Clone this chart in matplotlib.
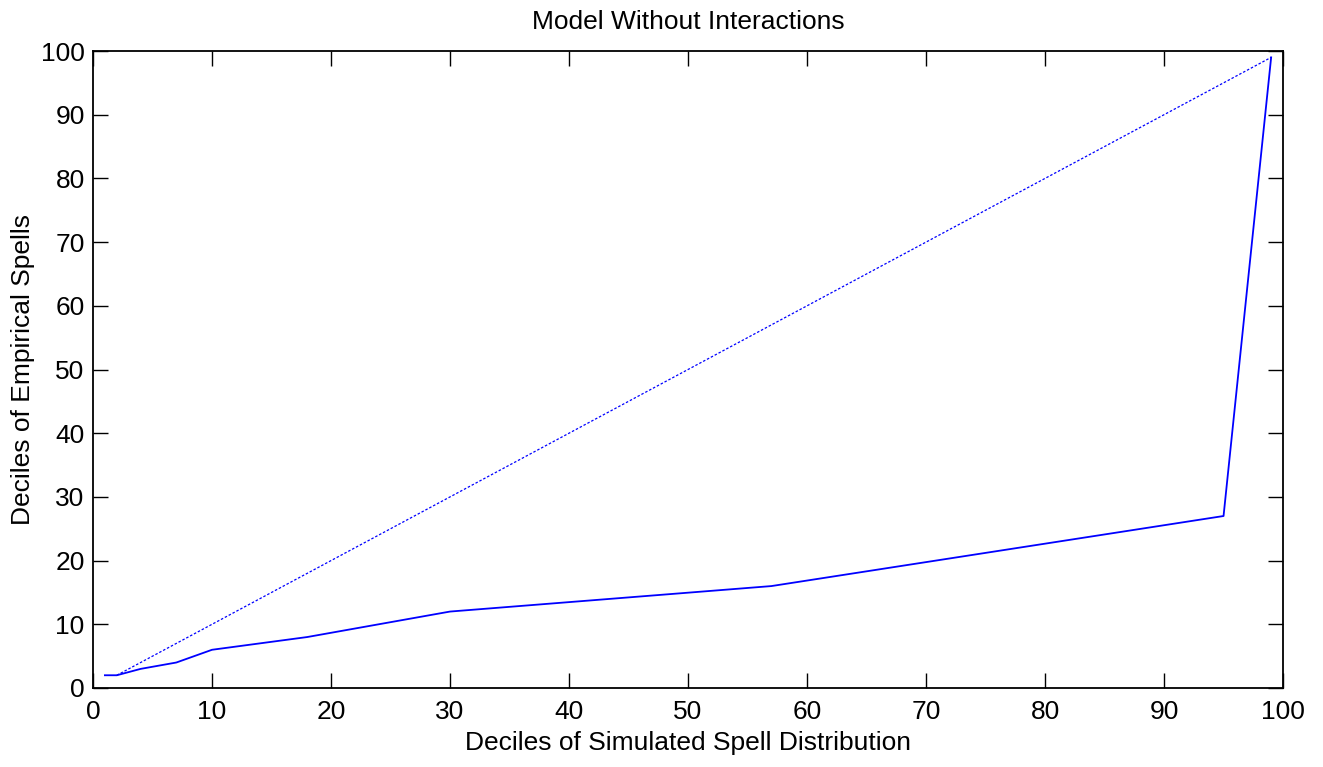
import matplotlib
matplotlib.use('Agg')
import matplotlib.pyplot as plt

plt.rcParams['font.family'] = ['Liberation Sans', 'DejaVu Sans']

# deciles of simulated vs empirical spells
sim_x = [1, 2, 4, 7, 10, 18, 30, 57, 95, 99]
emp_y = [2, 2, 3, 4, 6, 8, 12, 16, 27, 99]
ref_x = [2, 99]
ref_y = [2, 99]

fig = plt.figure(figsize=(13.23, 7.67), dpi=100)
ax = fig.add_axes([0.0703, 0.103, 0.8995, 0.8305])

ax.plot(sim_x, emp_y, color='blue', linewidth=1.3)
ax.plot(ref_x, ref_y, color='blue', linewidth=0.9, linestyle=(0, (2, 1.5)))

ax.set_xlim(0, 100)
ax.set_ylim(0, 100)
ax.set_xticks(range(0, 101, 10))
ax.set_yticks(range(0, 101, 10))
ax.tick_params(direction='in', top=True, right=True, length=11, width=1, labelsize=19)
ax.tick_params(axis='x', pad=9)
ax.tick_params(axis='y', pad=6)
for s in ax.spines.values():
    s.set_linewidth(1.3)

ax.set_title('Model Without Interactions', fontsize=19, pad=16)
ax.set_xlabel('Deciles of Simulated Spell Distribution', fontsize=19, labelpad=5)
ax.set_ylabel('Deciles of Empirical Spells', fontsize=19, labelpad=4)

fig.savefig('out.png', dpi=100)
